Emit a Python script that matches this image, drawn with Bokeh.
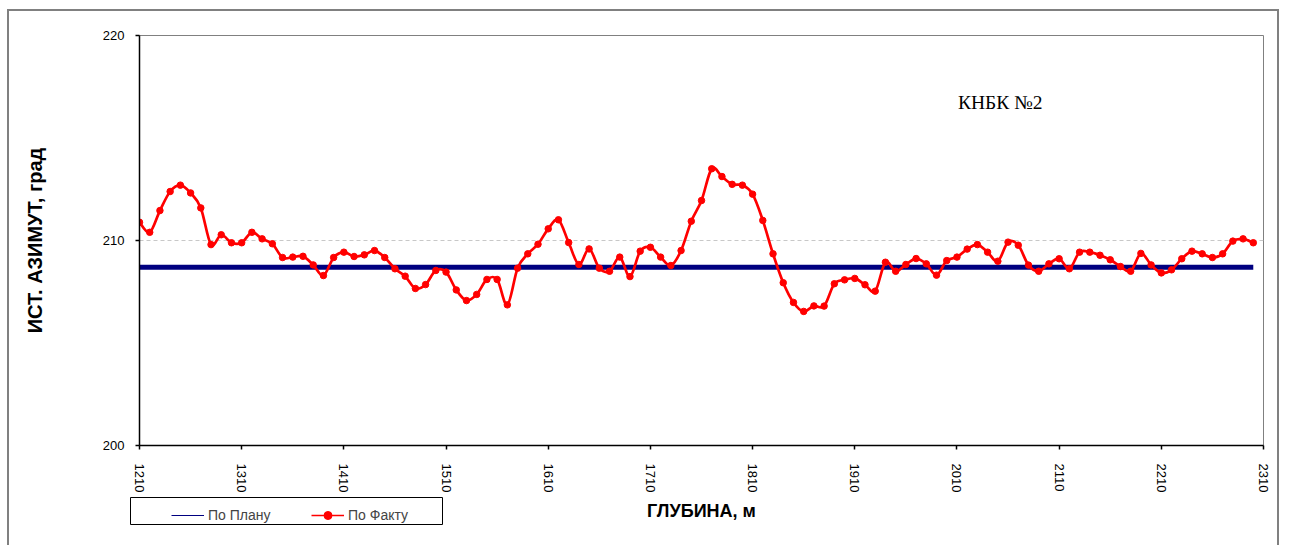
import numpy as np
from bokeh.plotting import figure
from bokeh.layouts import column
from bokeh.models import Range1d, FixedTicker, Legend, LegendItem, Label, ColumnDataSource
from bokeh.embed import file_html
from bokeh.resources import INLINE

# ---- data ----
depth = list(range(1210, 2301, 10))
fact = [210.89, 210.40, 211.46, 212.39, 212.70, 212.32, 211.59, 209.80, 210.28, 209.89,
        209.89, 210.40, 210.08, 209.84, 209.17, 209.19, 209.23, 208.81, 208.29, 209.17,
        209.43, 209.22, 209.30, 209.51, 209.17, 208.62, 208.26, 207.66, 207.85, 208.54,
        208.46, 207.59, 207.07, 207.37, 208.10, 208.10, 206.86, 208.65, 209.35, 209.82,
        210.57, 211.01, 209.90, 208.83, 209.59, 208.65, 208.50, 209.19, 208.24, 209.48,
        209.67, 209.19, 208.78, 209.51, 210.94, 211.95, 213.50, 213.12, 212.74, 212.70,
        212.26, 210.98, 209.35, 207.94, 206.98, 206.54, 206.81, 206.80, 207.89, 208.08,
        208.15, 207.84, 207.53, 208.94, 208.50, 208.83, 209.12, 208.86, 208.31, 209.02,
        209.19, 209.58, 209.80, 209.43, 208.99, 209.92, 209.77, 208.80, 208.50, 208.86,
        209.11, 208.62, 209.43, 209.43, 209.28, 209.06, 208.73, 208.50, 209.37, 208.81,
        208.42, 208.57, 209.11, 209.48, 209.35, 209.17, 209.35, 209.97, 210.08, 209.89]
plan_value = 208.7
plan = [plan_value] * len(depth)
x_ticks = list(range(1210, 2311, 100))
y_ticks = [200, 210, 220]
series_names = ["По Плану", "По Факту"]
x_title = "ГЛУБИНА, м"
y_title = "ИСТ. АЗИМУТ, град"
note_text = "КНБК №2"

# ---- smooth (Excel-like) rendering of the fact series via Bezier segments ----
d = np.array(depth, dtype=float)
f = np.array(fact, dtype=float)
dp = np.concatenate([[d[0]], d, [d[-1]]])
fp = np.concatenate([[f[0]], f, [f[-1]]])
n = len(d)
bz = ColumnDataSource(dict(
    x0=d[:-1], y0=f[:-1], x1=d[1:], y1=f[1:],
    cx0=d[:-1] + (dp[2:n + 1] - dp[0:n - 1]) / 6.0,
    cy0=f[:-1] + (fp[2:n + 1] - fp[0:n - 1]) / 6.0,
    cx1=d[1:] - (dp[3:n + 2] - dp[1:n]) / 6.0,
    cy1=f[1:] - (fp[3:n + 2] - fp[1:n]) / 6.0,
))

NAVY = "#000080"
RED = "#FF0000"
FONT = "Liberation Sans"

p = figure(width=1272, height=536, output_backend="svg", toolbar_location=None,
           x_range=Range1d(1210, 2310), y_range=Range1d(200, 220),
           min_border_left=129, min_border_right=18, min_border_top=24, min_border_bottom=102)
p.styles = {"margin-left": "7px", "margin-top": "9px",
            "border-left": "2px solid #808080", "border-top": "2px solid #808080",
            "border-right": "2px solid #808080"}
p.background_fill_color = "white"
p.border_fill_color = "white"
p.outline_line_color = "#808080"
p.outline_line_width = 1

# grid
p.xgrid.visible = False
p.ygrid.ticker = FixedTicker(ticks=[210])
p.ygrid.grid_line_color = "#c8c8c8"
p.ygrid.grid_line_dash = "4 3"
p.ygrid.grid_line_width = 1

# axes
for ax in (p.xaxis[0], p.yaxis[0]):
    ax.axis_line_color = "black"
    ax.axis_line_width = 1.5
    ax.major_tick_line_color = "black"
    ax.major_tick_line_width = 1.5
    ax.major_tick_out = 4
    ax.major_tick_in = 0
    ax.minor_tick_line_color = None
    ax.major_label_text_font = FONT
    ax.major_label_text_font_size = "13px"
    ax.major_label_text_color = "black"
    ax.axis_label_text_font = FONT
    ax.axis_label_text_font_style = "bold"
    ax.axis_label_text_color = "black"

p.xaxis.ticker = FixedTicker(ticks=x_ticks)
p.xaxis.major_label_orientation = "vertical"
p.xaxis.major_label_standoff = 14
p.xaxis.axis_label = x_title
p.xaxis.axis_label_text_font_size = "18px"
p.xaxis.axis_label_standoff = 6

p.yaxis.ticker = FixedTicker(ticks=y_ticks)
p.yaxis.major_label_standoff = 11
p.yaxis.axis_label = y_title
p.yaxis.axis_label_text_font_size = "20px"
p.yaxis.axis_label_standoff = 54

# plan line (thick)
p.line(depth, plan, line_color=NAVY, line_width=5)

# fact series
p.bezier(x0="x0", y0="y0", x1="x1", y1="y1", cx0="cx0", cy0="cy0",
         cx1="cx1", cy1="cy1", source=bz, line_color=RED, line_width=2.7)
p.scatter(depth, fact, marker="circle", size=6.5, fill_color=RED, line_color=RED)

# note
p.add_layout(Label(x=2011, y=216.75, text=note_text, text_font="Liberation Serif",
                   text_font_size="19.5px", text_color="black", text_baseline="alphabetic"))

# ---- legend box: a small transparent figure overlaid at the chart's lower left ----
leg = figure(frame_width=313, frame_height=28, output_backend="svg", toolbar_location=None,
             title=None, x_range=Range1d(0, 1), y_range=Range1d(0, 1),
             x_axis_location=None, y_axis_location=None,
             min_border_left=130, min_border_right=0,
             min_border_top=0, min_border_bottom=0)
leg.grid.visible = False
leg.outline_line_color = "black"
leg.outline_line_width = 1
leg.background_fill_color = "white"
leg.border_fill_alpha = 0
leg.styles = {"margin-top": "-48px"}
lg_plan = leg.line(depth, plan, line_color=NAVY, line_width=1)
lg_fact = leg.line(depth, fact, line_color=RED, line_width=1.5)
lg_pts = leg.scatter(depth, fact, marker="circle", size=6, fill_color=RED, line_color=RED)
legend = Legend(items=[LegendItem(label=series_names[0], renderers=[lg_plan]),
                       LegendItem(label=series_names[1], renderers=[lg_fact, lg_pts])],
                orientation="horizontal", location=(41, 0), margin=0, padding=4,
                spacing=12, glyph_width=33, glyph_height=20, label_height=20,
                label_width=91, label_standoff=4,
                label_text_font=FONT, label_text_font_size="14px",
                border_line_color=None, background_fill_alpha=0)
leg.add_layout(legend, "center")

layout = column(p, leg, spacing=0)
open("out.html", "w").write(file_html(layout, INLINE))
